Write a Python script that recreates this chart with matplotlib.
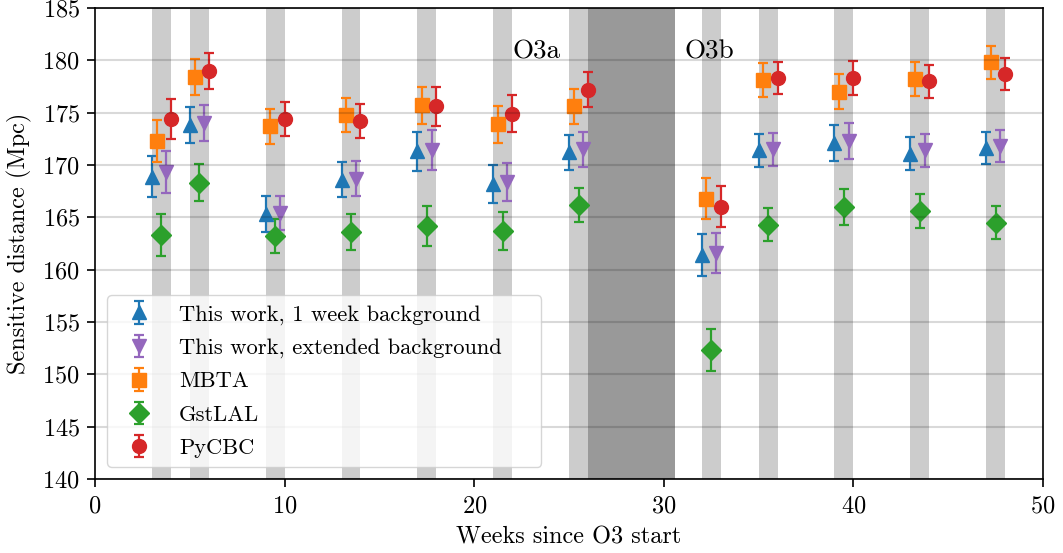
import numpy as np
import matplotlib
matplotlib.use("Agg")
import matplotlib.pyplot as plt

plt.rcParams['font.family'] = 'serif'
plt.rcParams['font.serif'] = ['cmr10']
plt.rcParams['mathtext.fontset'] = 'cm'
plt.rcParams['axes.formatter.use_mathtext'] = True
plt.rcParams['font.size'] = 17.5

# start week of each analysed chunk (light grey bands are one week wide)
weeks = np.array([3, 5, 9, 13, 17, 21, 25, 32, 35, 39, 43, 47])
gap_start, gap_end = 26.0, 30.57  # O3a / O3b break

one_week = [168.9, 173.8, 165.3, 168.6, 171.3, 168.2, 171.2, 161.4, 171.4, 172.1, 171.1, 171.6]
one_week_err = [2.0, 1.7, 1.7, 1.7, 1.9, 1.8, 1.65, 2.0, 1.55, 1.7, 1.6, 1.55]
extended = [169.3, 174.0, 165.4, 168.7, 171.4, 168.4, 171.5, 161.6, 171.5, 172.3, 171.4, 171.8]
extended_err = [2.0, 1.7, 1.65, 1.7, 1.9, 1.8, 1.65, 1.95, 1.55, 1.7, 1.6, 1.55]
mbta = [172.3, 178.4, 173.7, 174.8, 175.7, 173.9, 175.6, 166.8, 178.1, 177.0, 178.2, 179.8]
mbta_err = [2.0, 1.7, 1.65, 1.6, 1.8, 1.75, 1.65, 1.95, 1.6, 1.65, 1.6, 1.55]
gstlal = [163.3, 168.3, 163.2, 163.6, 164.2, 163.7, 166.2, 152.3, 164.3, 166.0, 165.6, 164.5]
gstlal_err = [2.0, 1.75, 1.65, 1.7, 1.9, 1.8, 1.65, 2.0, 1.55, 1.7, 1.6, 1.6]
pycbc = [174.4, 179.0, 174.4, 174.2, 175.6, 174.9, 177.2, 166.0, 178.3, 178.3, 178.0, 178.7]
pycbc_err = [1.95, 1.7, 1.65, 1.65, 1.85, 1.75, 1.65, 1.95, 1.55, 1.65, 1.55, 1.5]

fig = plt.figure(figsize=(10.63, 5.53), dpi=100)
ax = fig.add_axes([0.0894, 0.1338, 0.8918, 0.8517])

for w in weeks:
    ax.axvspan(w, w + 1, color='#cccccc', lw=0, zorder=0)
ax.axvspan(gap_start, gap_end, color='#999999', lw=0, zorder=0)

style = dict(ls='none', markersize=10, capsize=3.5, elinewidth=1.6, capthick=1.6)
ax.errorbar(weeks, one_week, yerr=one_week_err, fmt='^', color='#1f77b4',
            label='This work, 1 week background', **style)
ax.errorbar(weeks + 0.75, extended, yerr=extended_err, fmt='v', color='#9467bd',
            label='This work, extended background', **style)
ax.errorbar(weeks + 0.25, mbta, yerr=mbta_err, fmt='s', color='#ff7f0e',
            label='MBTA', **style)
ax.errorbar(weeks + 0.5, gstlal, yerr=gstlal_err, fmt='D', color='#2ca02c',
            label='GstLAL', **style)
ax.errorbar(weeks + 1.0, pycbc, yerr=pycbc_err, fmt='o', color='#d62728',
            label='PyCBC', **style)

ax.text(gap_start - 4, 180.8, 'O3a', fontsize=19.5, va='center', ha='left')
ax.text(gap_end + 0.5, 180.8, 'O3b', fontsize=19.5, va='center', ha='left')

ax.set_xlim(0, 50)
ax.set_ylim(140, 185)
ax.set_yticks(np.arange(140, 186, 5))
ax.tick_params(axis='both', length=6, width=1.2)
ax.tick_params(axis='x', pad=6)
ax.tick_params(axis='y', pad=5)
for s in ax.spines.values():
    s.set_linewidth(1.2)
ax.grid(axis='y', color='k', alpha=0.15, lw=1.5)
ax.set_axisbelow(False)
ax.set_xlabel('Weeks since O3 start', labelpad=6)
ax.set_ylabel('Sensitive distance (Mpc)', labelpad=7)
ax.legend(loc='lower left', fontsize=16.2, labelspacing=0.6, mode='expand',
          borderaxespad=0, bbox_to_anchor=(0.0127, 0.0255, 0.458, 0.3))

fig.savefig('out.png', dpi=100)
